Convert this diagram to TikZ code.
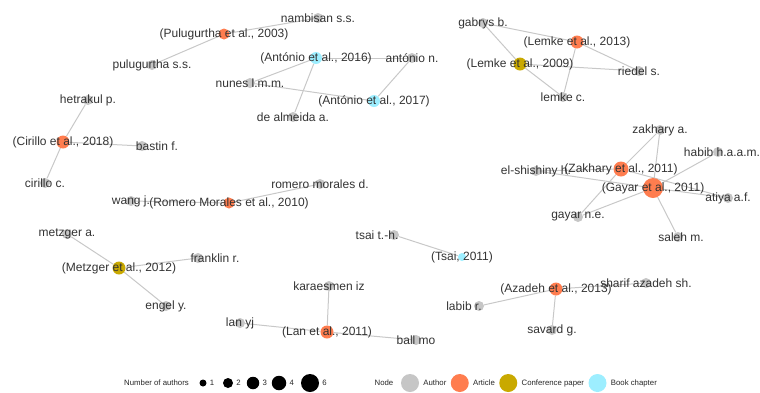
\documentclass[tikz,border=0pt]{standalone}
\usepackage{fontspec}
\setmainfont{Liberation Sans}
\usetikzlibrary{backgrounds,positioning}

\definecolor{authorgray}{HTML}{C6C6C6}
\definecolor{articleorange}{HTML}{FF7D4F}
\definecolor{confyellow}{HTML}{C9A900}
\definecolor{chaptercyan}{HTML}{9DEEFF}
\definecolor{edgegray}{HTML}{C8C8C8}
\definecolor{textgray}{HTML}{333333}

\tikzset{
  vertex/.style={circle, inner sep=0pt, minimum size=#1},
  author/.style={vertex=10pt, fill=authorgray},
  article/.style={vertex=#1, fill=articleorange},
  confpaper/.style={vertex=#1, fill=confyellow},
  chapter/.style={vertex=#1, fill=chaptercyan},
  lbl/.style={font=\fontsize{12}{14}\selectfont, text=textgray, inner sep=0pt},
  link/.style={draw=edgegray, line width=1pt},
  key/.style={font=\fontsize{7.8}{9}\selectfont, text=black!85, inner sep=0pt},
}

\begin{document}
\begin{tikzpicture}[x=1pt, y=-1pt]
\useasboundingbox (0,0) rectangle (760,392);
% Pulugurtha cluster
\node[article=11pt, label={[lbl]center:(Pulugurtha et al., 2003)}] (pul03) at (224,34) {};
\node[author, label={[lbl]center:nambisan s.s.}] (nambisan) at (318,18) {};
\node[author, label={[lbl]center:pulugurtha s.s.}] (pulugurtha) at (152,65) {};
% Antonio cluster
\node[chapter=12pt, label={[lbl]center:(António et al., 2016)}] (ant16) at (316,58) {};
\node[author, label={[lbl]center:antónio n.}] (anton) at (412,58) {};
\node[author, label={[lbl]center:nunes l.m.m.}] (nunes) at (250,83) {};
\node[chapter=12pt, label={[lbl]center:(António et al., 2017)}] (ant17) at (374,101) {};
\node[author, label={[lbl]center:de almeida a.}] (almeida) at (293,117) {};
% Lemke cluster
\node[author, label={[lbl]center:gabrys b.}] (gabrys) at (483,23) {};
\node[article=13pt, label={[lbl]center:(Lemke et al., 2013)}] (lem13) at (577,42) {};
\node[confpaper=13pt, label={[lbl]center:(Lemke et al., 2009)}] (lem09) at (520,64) {};
\node[author, label={[lbl]center:riedel s.}] (riedel) at (639,71) {};
\node[author, label={[lbl]center:lemke c.}] (lemke) at (563,97) {};
% Cirillo cluster
\node[author, label={[lbl]center:hetrakul p.}] (hetrakul) at (88,100) {};
\node[article=13pt, label={[lbl]center:(Cirillo et al., 2018)}] (cir18) at (63,142) {};
\node[author, label={[lbl, xshift=15pt]center:bastin f.}] (bastin) at (142,146) {};
\node[author, label={[lbl]center:cirillo c.}] (cirillo) at (45,183) {};
% Romero Morales cluster
\node[author, label={[lbl]center:romero morales d.}] (romero) at (320,184) {};
\node[article=11pt, label={[lbl]center:(Romero Morales et al., 2010)}] (rom10) at (229,203) {};
\node[author, label={[lbl]center:wang j.}] (wang) at (131,201) {};
% Zakhary / Gayar cluster
\node[author, label={[lbl]center:zakhary a.}] (zakhary) at (660,130) {};
\node[author, label={[lbl, xshift=4pt]center:habib h.a.a.m.}] (habib) at (718,152) {};
\node[author, label={[lbl]center:el-shishiny h.}] (elshishiny) at (536,171) {};
\node[article=15pt, label={[lbl]center:(Zakhary et al., 2011)}] (zak11) at (621,169) {};
\node[article=20pt, label={[lbl]center:(Gayar et al., 2011)}] (gay11) at (653,188) {};
\node[author, label={[lbl]center:atiya a.f.}] (atiya) at (728,198) {};
\node[author, label={[lbl]center:gayar n.e.}] (gayar) at (578,217) {};
\node[author, label={[lbl, xshift=3pt]center:saleh m.}] (saleh) at (678,237) {};
% Metzger cluster
\node[author, label={[lbl]center:metzger a.}] (metzger) at (67,234) {};
\node[confpaper=13pt, label={[lbl]center:(Metzger et al., 2012)}] (met12) at (119,268) {};
\node[author, label={[lbl, xshift=17pt]center:franklin r.}] (franklin) at (198,258) {};
\node[author, label={[lbl]center:engel y.}] (engel) at (166,306) {};
% Tsai
\node[author, label={[lbl, xshift=-17pt]center:tsai t.-h.}] (tsai) at (394,235) {};
\node[chapter=8pt, label={[lbl]center:(Tsai, 2011)}] (tsa11) at (462,257) {};
% Azadeh cluster
\node[article=13pt, label={[lbl]center:(Azadeh et al., 2013)}] (aza13) at (556,289) {};
\node[author, label={[lbl]center:sharif azadeh sh.}] (sharif) at (646,283) {};
\node[author, label={[lbl, xshift=-15pt]center:labib r.}] (labib) at (479,306) {};
\node[author, label={[lbl]center:savard g.}] (savard) at (552,330) {};
% Lan cluster
\node[author, label={[lbl]center:karaesmen iz}] (karaesmen) at (329,286) {};
\node[article=13pt, label={[lbl]center:(Lan et al., 2011)}] (lan11) at (327,332) {};
\node[author, label={[lbl]center:lan yj}] (lanyj) at (240,323) {};
\node[author, label={[lbl]center:ball mo}] (ball) at (416,340) {};

% edges behind everything
\begin{scope}[on background layer]
\foreach \a/\b in {pul03/nambisan, pul03/pulugurtha,
  ant16/anton, ant16/nunes, ant16/almeida, ant17/anton, ant17/nunes,
  lem13/gabrys, lem13/riedel, lem13/lemke, lem09/gabrys, lem09/riedel, lem09/lemke,
  cir18/hetrakul, cir18/bastin, cir18/cirillo, rom10/romero, rom10/wang,
  zak11/zakhary, zak11/elshishiny, zak11/gayar, zak11/atiya,
  gay11/zakhary, gay11/elshishiny, gay11/gayar, gay11/atiya, gay11/saleh, gay11/habib,
  met12/metzger, met12/franklin, met12/engel, tsa11/tsai,
  aza13/sharif, aza13/labib, aza13/savard,
  lan11/karaesmen, lan11/lanyj, lan11/ball}
  \draw[link] (\a) -- (\b);
\end{scope}

% legend
\node[key] (nauth) at (156.5,383) {Number of authors};
\foreach \n/\x/\d in {1/203/7, 2/228/10, 3/253/12.5, 4/279/14.5, 6/310/18}{
  \node[vertex=\d pt, fill=black] (size\n) at (\x,383) {};
  \node[key, right=3pt of size\n] (sizelbl\n) {\n};
}
\node[key] (nodekey) at (384,383) {Node};
\node[author, minimum size=18pt] (keyauthor) at (410,383) {};
\node[key, right=4pt of keyauthor] (keyauthorlbl) {Author};
\node[vertex=18pt, fill=articleorange, right=4pt of keyauthorlbl] (keyarticle) {};
\node[key, right=4pt of keyarticle] (keyarticlelbl) {Article};
\node[vertex=18pt, fill=confyellow, right=4pt of keyarticlelbl] (keyconf) {};
\node[key, right=4pt of keyconf] (keyconflbl) {Conference paper};
\node[vertex=18pt, fill=chaptercyan, right=4pt of keyconflbl] (keychapter) {};
\node[key, right=4pt of keychapter] (keychapterlbl) {Book chapter};
\end{tikzpicture}
\end{document}
